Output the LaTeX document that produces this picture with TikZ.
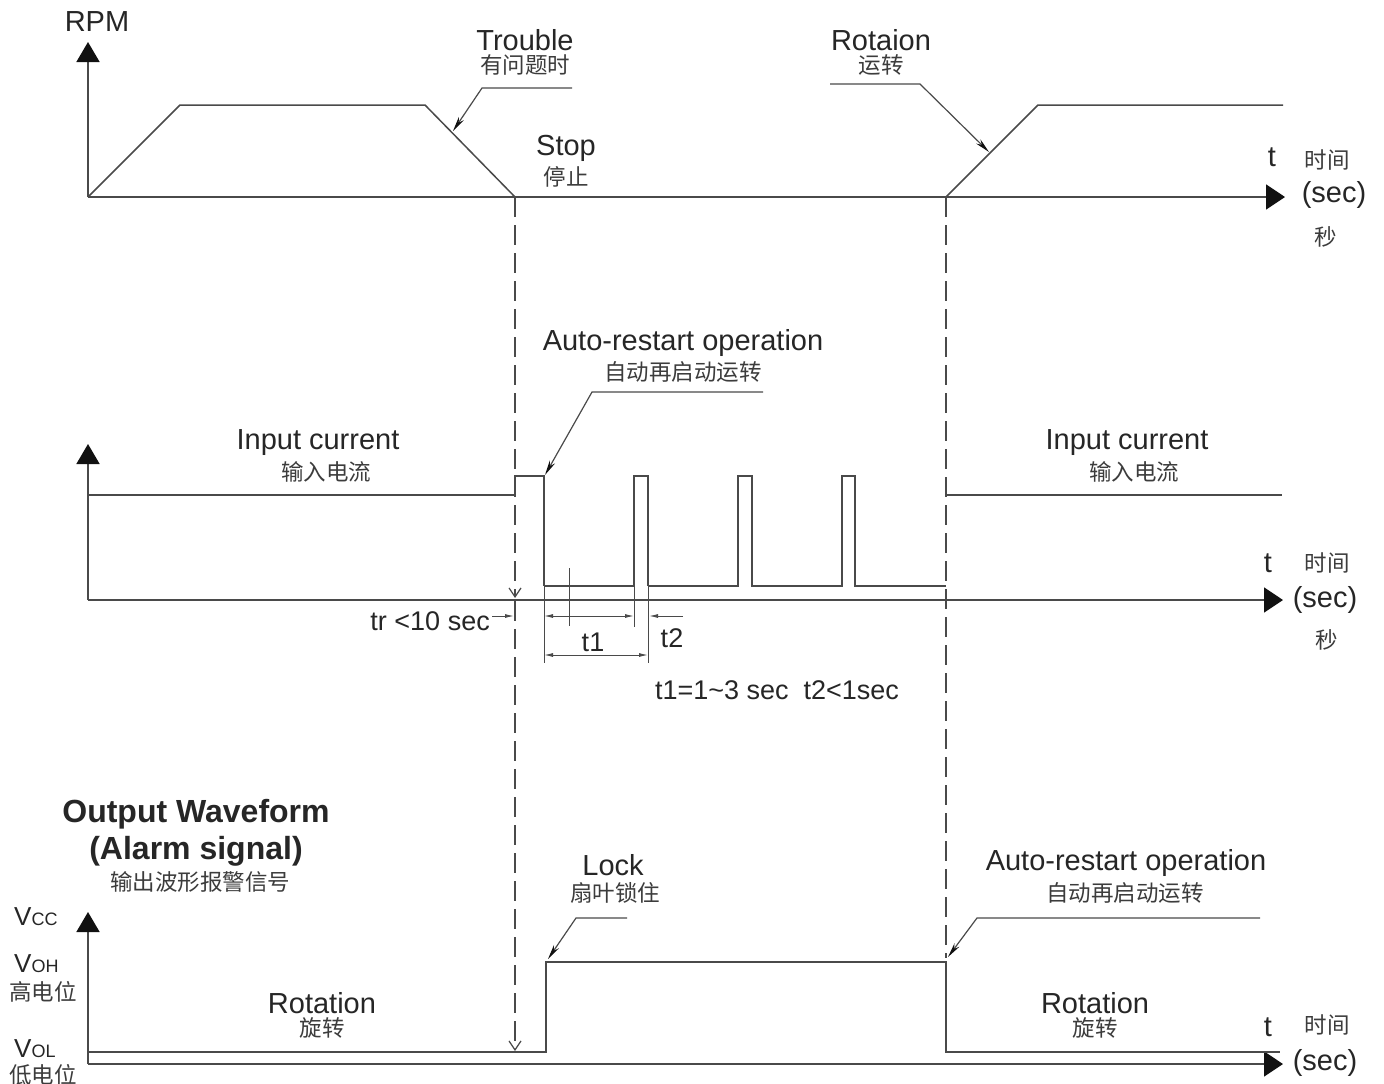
\documentclass[tikz,border=0pt]{standalone}
\usepackage{fontspec}
\setmainfont{Liberation Sans}
\newfontfamily\cjk{Noto Sans CJK SC}
\usetikzlibrary{arrows.meta}
\definecolor{linec}{HTML}{4A4A4A}
\definecolor{txt}{HTML}{262626}
\definecolor{txtzh}{HTML}{3C3C3C}
\definecolor{tipc}{HTML}{111111}
\begin{document}
\begin{tikzpicture}[x=1pt,y=-1pt,
  en/.style={font=\fontsize{29}{31}\selectfont, text=txt, inner sep=0pt},
  ens/.style={font=\fontsize{27}{29}\selectfont, text=txt, inner sep=0pt},
  enb/.style={font=\bfseries\fontsize{32}{34}\selectfont, text=txt, inner sep=0pt},
  zh/.style={font=\cjk\fontsize{22.5}{23}\selectfont, text=txtzh, inner sep=0pt},
  vs/.style={font=\fontsize{26}{27}\selectfont, text=txt, inner sep=0pt, anchor=west},
  axisline/.style={draw=linec, line width=1.7pt},
  vtip/.style={-{Triangle[length=20pt,width=23pt,color=tipc]}},
  htip/.style={-{Triangle[length=19pt,width=25pt,color=tipc]}},
  wave/.style={draw=linec, line width=1.5pt},
  lead/.style={draw=linec, line width=1.2pt, -{Stealth[length=15pt,width=6pt,color=tipc]}},
  dashv/.style={draw=linec, line width=1.3pt, dash pattern=on 20pt off 8pt},
  openarr/.style={-{Straight Barb[length=9pt,width=12pt,line width=1.2pt]}},
  dimline/.style={draw=linec, line width=1pt},
  dimtip/.style={{Latex[length=9pt,width=4pt]}-{Latex[length=9pt,width=4pt]}},
  dimtipr/.style={-{Latex[length=9pt,width=4pt]}}
]
\useasboundingbox (0,0) rectangle (1384,1084);
\fill[white] (0,0) rectangle (1384,1084);

% ---------------- TOP: RPM ----------------
\coordinate (o1) at (88,197);
\coordinate (y1) at (88,42);
\coordinate (x1) at (1285,197);
\draw[axisline,vtip] (o1) -- (y1);
\draw[axisline,htip] (o1) -- (x1);
\coordinate (stop) at (515,197);
\coordinate (rot) at (946,197);
\draw[wave] (o1) -- (180,105) -- (425,105) -- (stop);
\draw[wave] (rot) -- (1038,105) -- (1283,105);
\coordinate (trL) at (572,88);
\coordinate (trK) at (482,88);
\coordinate (trT) at (453,131);
\draw[lead] (trL) -- (trK) -- (trT);
\coordinate (roL) at (830,84);
\coordinate (roK) at (920,84);
\coordinate (roT) at (989,152);
\draw[lead] (roL) -- (roK) -- (roT);

\node[en] (rpm) at (97,22) {RPM};
\node[en] (trouble) at (525,40) {Trouble};
\node[zh] (troublezh) at (525,65) {有问题时};
\node[en] (stoptxt) at (566,148) {Stop};
\node[zh] (stopzh) at (566,177) {停止};
\node[en] (rotaion) at (881,40) {Rotaion};
\node[zh] (rotaionzh) at (881,65) {运转};
\node[en] (t1lab) at (1272,157) {t};
\node[zh] (t1zh) at (1327,160) {时间};
\node[en] (sec1) at (1334,195) {(sec)};
\node[zh] (sec1zh) at (1326,237) {秒};

% ---------------- dashed guides ----------------
\coordinate (dA1) at (515,598);
\coordinate (dA2) at (515,601);
\coordinate (dA3) at (515,1051);
\coordinate (dB) at (946,958);
\draw[dashv,openarr] (stop) -- (dA1);
\draw[dashv,openarr] (dA2) -- (dA3);
\draw[dashv] (rot) -- (dB);

% ---------------- MIDDLE: input current ----------------
\coordinate (o2) at (88,600);
\coordinate (y2) at (88,444);
\coordinate (x2) at (1283,600);
\draw[axisline,vtip] (o2) -- (y2);
\draw[axisline,htip] (o2) -- (x2);
\draw[wave] (88,495) -- (515,495) -- (515,476) -- (544,476) -- (544,586);
\draw[wave] (544,586) -- (634,586);
\draw[wave] (634,586) -- (634,476) -- (648,476) -- (648,586);
\draw[wave] (648,586) -- (738,586) -- (738,476) -- (752,476) -- (752,586)
  -- (842,586) -- (842,476) -- (855,476) -- (855,586) -- (946,586);
\draw[wave] (946,495) -- (1282,495);
% extension lines
\draw[dimline] (544,586) -- (544,663);
\draw[dimline] (634,586) -- (634,627);
\draw[dimline] (648,586) -- (648,663);
\draw[dimline] (569,568) -- (569,626);
% dimensions
\coordinate (d1a) at (544,616);
\coordinate (d1b) at (634,616);
\draw[dimline,dimtip] (d1a) -- (d1b);
\coordinate (d2a) at (683,616);
\coordinate (d2b) at (649,616);
\draw[dimline,dimtipr] (d2a) -- (d2b);
\coordinate (d3a) at (544,655);
\coordinate (d3b) at (648,655);
\draw[dimline,dimtip] (d3a) -- (d3b);
\coordinate (tra) at (492,616);
\coordinate (trb) at (514,616);
\draw[dimline,dimtipr] (tra) -- (trb);
% leader
\coordinate (arL) at (763,392);
\coordinate (arK) at (592,392);
\coordinate (arT) at (545,475);
\draw[lead] (arL) -- (arK) -- (arT);

\node[en] (autor1) at (683,343) {Auto-restart operation};
\node[zh] (autor1zh) at (683,372) {自动再启动运转};
\node[en] (inL) at (318,443) {Input current};
\node[zh] (inLzh) at (326,472) {输入电流};
\node[en] (inR) at (1127,443) {Input current};
\node[zh] (inRzh) at (1134,472) {输入电流};
\node[en] (t2lab) at (1268,563) {t};
\node[zh] (t2zh) at (1327,563) {时间};
\node[en] (sec2) at (1325,600) {(sec)};
\node[zh] (sec2zh) at (1327,640) {秒};
\node[ens, anchor=east] (trtxt) at (490,621) {tr <10 sec};
\node[ens] (t1txt) at (593,642) {t1};
\node[ens] (t2txt) at (672,638) {t2};
\node[ens] (formula) at (777,690) {t1=1\textasciitilde 3 sec\ \ t2<1sec};

% ---------------- BOTTOM: alarm ----------------
\coordinate (o3) at (88,1064);
\coordinate (y3) at (88,912);
\coordinate (x3) at (1283,1064);
\draw[axisline,vtip] (o3) -- (y3);
\draw[axisline,htip] (o3) -- (x3);
\draw[wave] (88,1052) -- (546,1052) -- (546,962) -- (946,962) -- (946,1052) -- (1280,1052);
\coordinate (lkL) at (627,918);
\coordinate (lkK) at (576,918);
\coordinate (lkT) at (548,959);
\draw[lead] (lkL) -- (lkK) -- (lkT);
\coordinate (a2L) at (1260,918);
\coordinate (a2K) at (977,918);
\coordinate (a2T) at (948,957);
\draw[lead] (a2L) -- (a2K) -- (a2T);

\node[enb] (ow) at (196,814) {Output Waveform};
\node[enb] (al) at (196,851) {(Alarm signal)};
\node[zh] (owzh) at (200,882) {输出波形报警信号};
\node[vs] (vcc) at (14,917) {V{\fontsize{18}{18}\selectfont CC}};
\node[vs] (voh) at (14,964) {V{\fontsize{18}{18}\selectfont OH}};
\node[zh] (vohzh) at (43,992) {高电位};
\node[vs] (vol) at (14,1049) {V{\fontsize{18}{18}\selectfont OL}};
\node[zh] (volzh) at (43,1075) {低电位};
\node[en] (lock) at (613,865) {Lock};
\node[zh] (lockzh) at (615,893) {扇叶锁住};
\node[en] (autor2) at (1126,863) {Auto-restart operation};
\node[zh] (autor2zh) at (1125,893) {自动再启动运转};
\node[en] (rotL) at (322,1003) {Rotation};
\node[zh] (rotLzh) at (322,1028) {旋转};
\node[en] (rotR) at (1095,1003) {Rotation};
\node[zh] (rotRzh) at (1095,1028) {旋转};
\node[en] (t3lab) at (1268,1027) {t};
\node[zh] (t3zh) at (1327,1025) {时间};
\node[en] (sec3) at (1325,1063) {(sec)};
\end{tikzpicture}
\end{document}
